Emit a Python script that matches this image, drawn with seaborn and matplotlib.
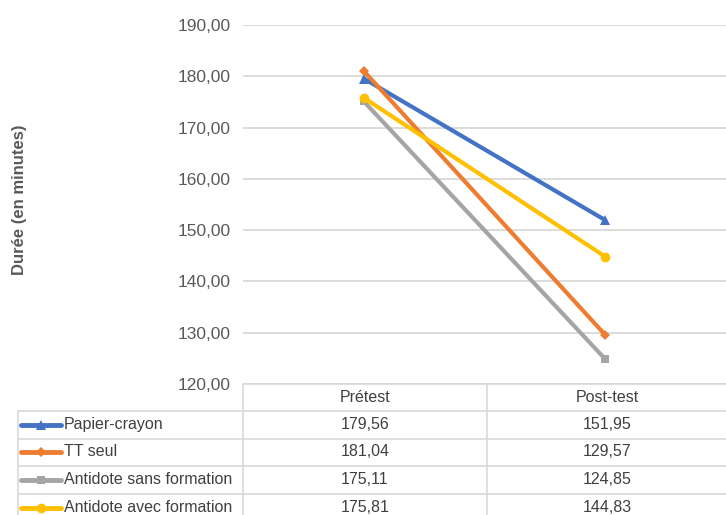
import numpy as np
import pandas as pd
import matplotlib
matplotlib.use("Agg")
import matplotlib.pyplot as plt
from matplotlib.lines import Line2D
import seaborn as sns

# Données du graphique
periodes = ["Prétest", "Post-test"]
groupes = ["Papier-crayon", "TT seul", "Antidote sans formation", "Antidote avec formation"]
papier_crayon = [179.56, 151.95]
tt_seul = [181.04, 129.57]
antidote_sans = [175.11, 124.85]
antidote_avec = [175.81, 144.83]
graduations = [120, 130, 140, 150, 160, 170, 180, 190]

couleurs = {"Papier-crayon": "#4472C4", "TT seul": "#ED7D31",
            "Antidote sans formation": "#A5A5A5", "Antidote avec formation": "#FFC000"}
marqueurs = {"Papier-crayon": "^", "TT seul": "D",
             "Antidote sans formation": "s", "Antidote avec formation": "o"}
tailles = {"Papier-crayon": 7, "TT seul": 5, "Antidote sans formation": 6, "Antidote avec formation": 7}

valeurs = [papier_crayon, tt_seul, antidote_sans, antidote_avec]
df = pd.DataFrame({
    "periode": [p for v in valeurs for p in periodes],
    "groupe": [g for g, v in zip(groupes, valeurs) for _ in v],
    "duree": [x for v in valeurs for x in v],
})

def virgule(v):
    return f"{v:.2f}".replace(".", ",")

sns.set_style("white")
plt.rcParams["font.family"] = ["Liberation Sans", "DejaVu Sans"]

W, H = 726, 515
fig = plt.figure(figsize=(W / 100, H / 100), dpi=100)
fx = lambda px: px / W
fy = lambda py: 1 - py / H

ax = fig.add_axes([fx(243), fy(384), fx(726) - fx(243), fy(25) - fy(384)])
sns.lineplot(data=df, x="periode", y="duree", hue="groupe", style="groupe",
             palette=couleurs, markers=marqueurs, dashes=False, linewidth=3,
             markersize=7, markeredgewidth=0, legend=False, ax=ax, sort=False)
for line, g in zip(ax.lines, groupes):
    line.set_markersize(tailles[g])

ax.set_xlim(-0.5, 1.5)
ax.set_ylim(120, 190)
ax.set_yticks(graduations)
ax.set_yticklabels([virgule(v) for v in graduations], color="#595959", fontsize=12.5)
ax.tick_params(axis="y", length=0, pad=9)
ax.set_xticks([])
ax.set_xlabel("")
ax.set_ylabel("")
ax.grid(axis="y", color="#D9D9D9", linewidth=1.3)
ax.set_axisbelow(True)
for s in ax.spines.values():
    s.set_visible(False)

fig.text(fx(20), fy(200), "Durée (en minutes)", rotation=90, ha="center", va="center",
         fontsize=12, fontweight="bold", color="#595959")

# Tableau de données sous le graphique
gris = "#D9D9D9"
lw = 1.2
lignes_y = [411, 438.5, 466, 494]
fig.add_artist(Line2D([fx(243), fx(726)], [fy(384), fy(384)], color=gris, lw=lw))
for y in lignes_y:
    fig.add_artist(Line2D([fx(18), fx(726)], [fy(y), fy(y)], color=gris, lw=lw))
fig.add_artist(Line2D([fx(18), fx(18)], [fy(411), fy(515)], color=gris, lw=lw))
for x in [243, 487]:
    fig.add_artist(Line2D([fx(x), fx(x)], [fy(384), fy(515)], color=gris, lw=lw))

texte = "#404040"
centres_col = [365, 607]
for c, p in zip(centres_col, periodes):
    fig.text(fx(c), fy(397), p, ha="center", va="center", fontsize=11.5, color=texte)

centres_lig = [424.5, 452, 480, 508]
for yc, g, v in zip(centres_lig, groupes, valeurs):
    fig.add_artist(Line2D([fx(21), fx(61)], [fy(yc), fy(yc)], color=couleurs[g], lw=3.5))
    fig.add_artist(Line2D([fx(41)], [fy(yc)], color=couleurs[g], lw=0,
                          marker=marqueurs[g], markersize=tailles[g], markeredgewidth=0))
    fig.text(fx(64), fy(yc), g, ha="left", va="center", fontsize=11.5, color=texte)
    for c, x in zip(centres_col, v):
        fig.text(fx(c), fy(yc), virgule(x), ha="center", va="center", fontsize=11.5, color=texte)

fig.savefig("out.png", dpi=100)
